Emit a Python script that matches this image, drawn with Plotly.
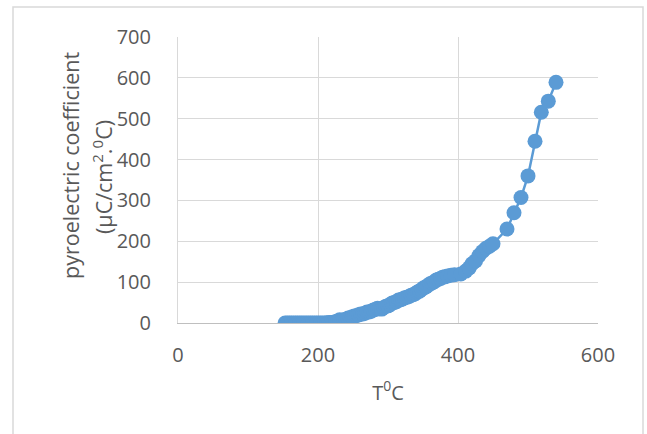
import plotly.graph_objects as go

temperature = [153, 156, 159, 162, 165, 168, 171, 174, 177, 180, 183, 186, 189, 192, 195, 198,
               201, 204, 207, 210, 213, 216, 219, 222, 225, 228, 231, 234, 237, 240, 243, 246,
               249, 252, 255, 258, 261, 264, 267, 270, 273, 276, 279, 282, 285, 288, 291, 294,
               297, 300, 303, 306, 309, 312, 315, 318, 321, 324, 327, 330, 333, 336, 339, 342,
               345, 348, 351, 354, 357, 360, 363, 366, 369, 372, 375, 378, 381, 385, 390, 395,
               404, 411, 416, 420, 425, 430, 435, 440, 445, 450, 470, 480, 490, 500, 510, 519,
               529, 540]
pyro = [0, 0, 0, 0, 0, 0, 0, 0, 0, 0, 0, 0, 0, 0, 0, 0,
        0, 0, 0, 0, 0.5, 1, 1, 2, 3, 5, 8, 6, 8, 9, 12, 13,
        15, 17, 18, 20, 22, 22, 24, 27, 27, 29, 32, 33, 36, 35, 34, 38,
        41, 42, 45, 49, 50, 52, 56, 57, 59, 62, 63, 65, 68, 69, 72, 76,
        78, 82, 86, 88, 92, 96, 98, 101, 105, 107, 109, 112, 113, 115, 117, 118,
        120, 127, 135, 145, 152, 165, 175, 183, 188, 194, 230, 270, 307, 360, 445, 516,
        543, 589]

x_ticks = [0, 200, 400, 600]
y_ticks = [0, 100, 200, 300, 400, 500, 600, 700]
y_title_lines = ["pyroelectric coefficient", "(μC/cm<sup>2</sup>.<sup>0</sup>C)"]

blue = "#5B9BD5"
grid = "#D9D9D9"
txt = "#595959"
font = "Open Sans"

fig = go.Figure()
fig.add_trace(go.Scatter(
    x=temperature, y=pyro, mode="lines+markers",
    line=dict(color=blue, width=2.5),
    marker=dict(color=blue, size=15),
    showlegend=False,
))

L, R, T, B = 178, 598, 37, 323
def px(xp):
    return (xp - L) / (R - L)
def py(yp):
    return (B - yp) / (B - T)

fig.update_layout(
    width=647, height=434,
    margin=dict(l=L, r=647 - R, t=T, b=434 - B),
    paper_bgcolor="white", plot_bgcolor="white",
    font=dict(family=font, color=txt, size=20),
    xaxis=dict(
        range=[0, 600], tickvals=x_ticks, showgrid=True, gridcolor=grid, gridwidth=1,
        showline=True, linecolor="#BFBFBF", linewidth=1, zeroline=False,
        ticks="outside", ticklen=14, tickcolor="rgba(0,0,0,0)",
        tickfont=dict(size=20, color=txt, family=font),
        title=dict(text="T<sup>0</sup>C", font=dict(size=20, color=txt, family=font), standoff=18),
    ),
    yaxis=dict(
        range=[0, 700], tickvals=y_ticks, showgrid=True, gridcolor=grid, gridwidth=1,
        showline=True, linecolor=grid, linewidth=1, zeroline=False,
        ticks="outside", ticklen=22, tickcolor="rgba(0,0,0,0)",
        tickfont=dict(size=20, color=txt, family=font),
    ),
    annotations=[
        dict(text=y_title_lines[0], xref="paper", yref="paper", x=px(70), y=py(166),
             textangle=-90, showarrow=False, xanchor="center", yanchor="middle",
             font=dict(size=21.5, color=txt, family=font)),
        dict(text=y_title_lines[1], xref="paper", yref="paper", x=px(102), y=py(177),
             textangle=-90, showarrow=False, xanchor="center", yanchor="middle",
             font=dict(size=21.5, color=txt, family=font)),
    ],
    shapes=[dict(type="rect", xref="paper", yref="paper",
                 x0=px(13), x1=px(643), y0=py(445), y1=py(7),
                 line=dict(color=grid, width=1.5), fillcolor="rgba(0,0,0,0)", layer="below")],
)

fig.write_html("out.html")
